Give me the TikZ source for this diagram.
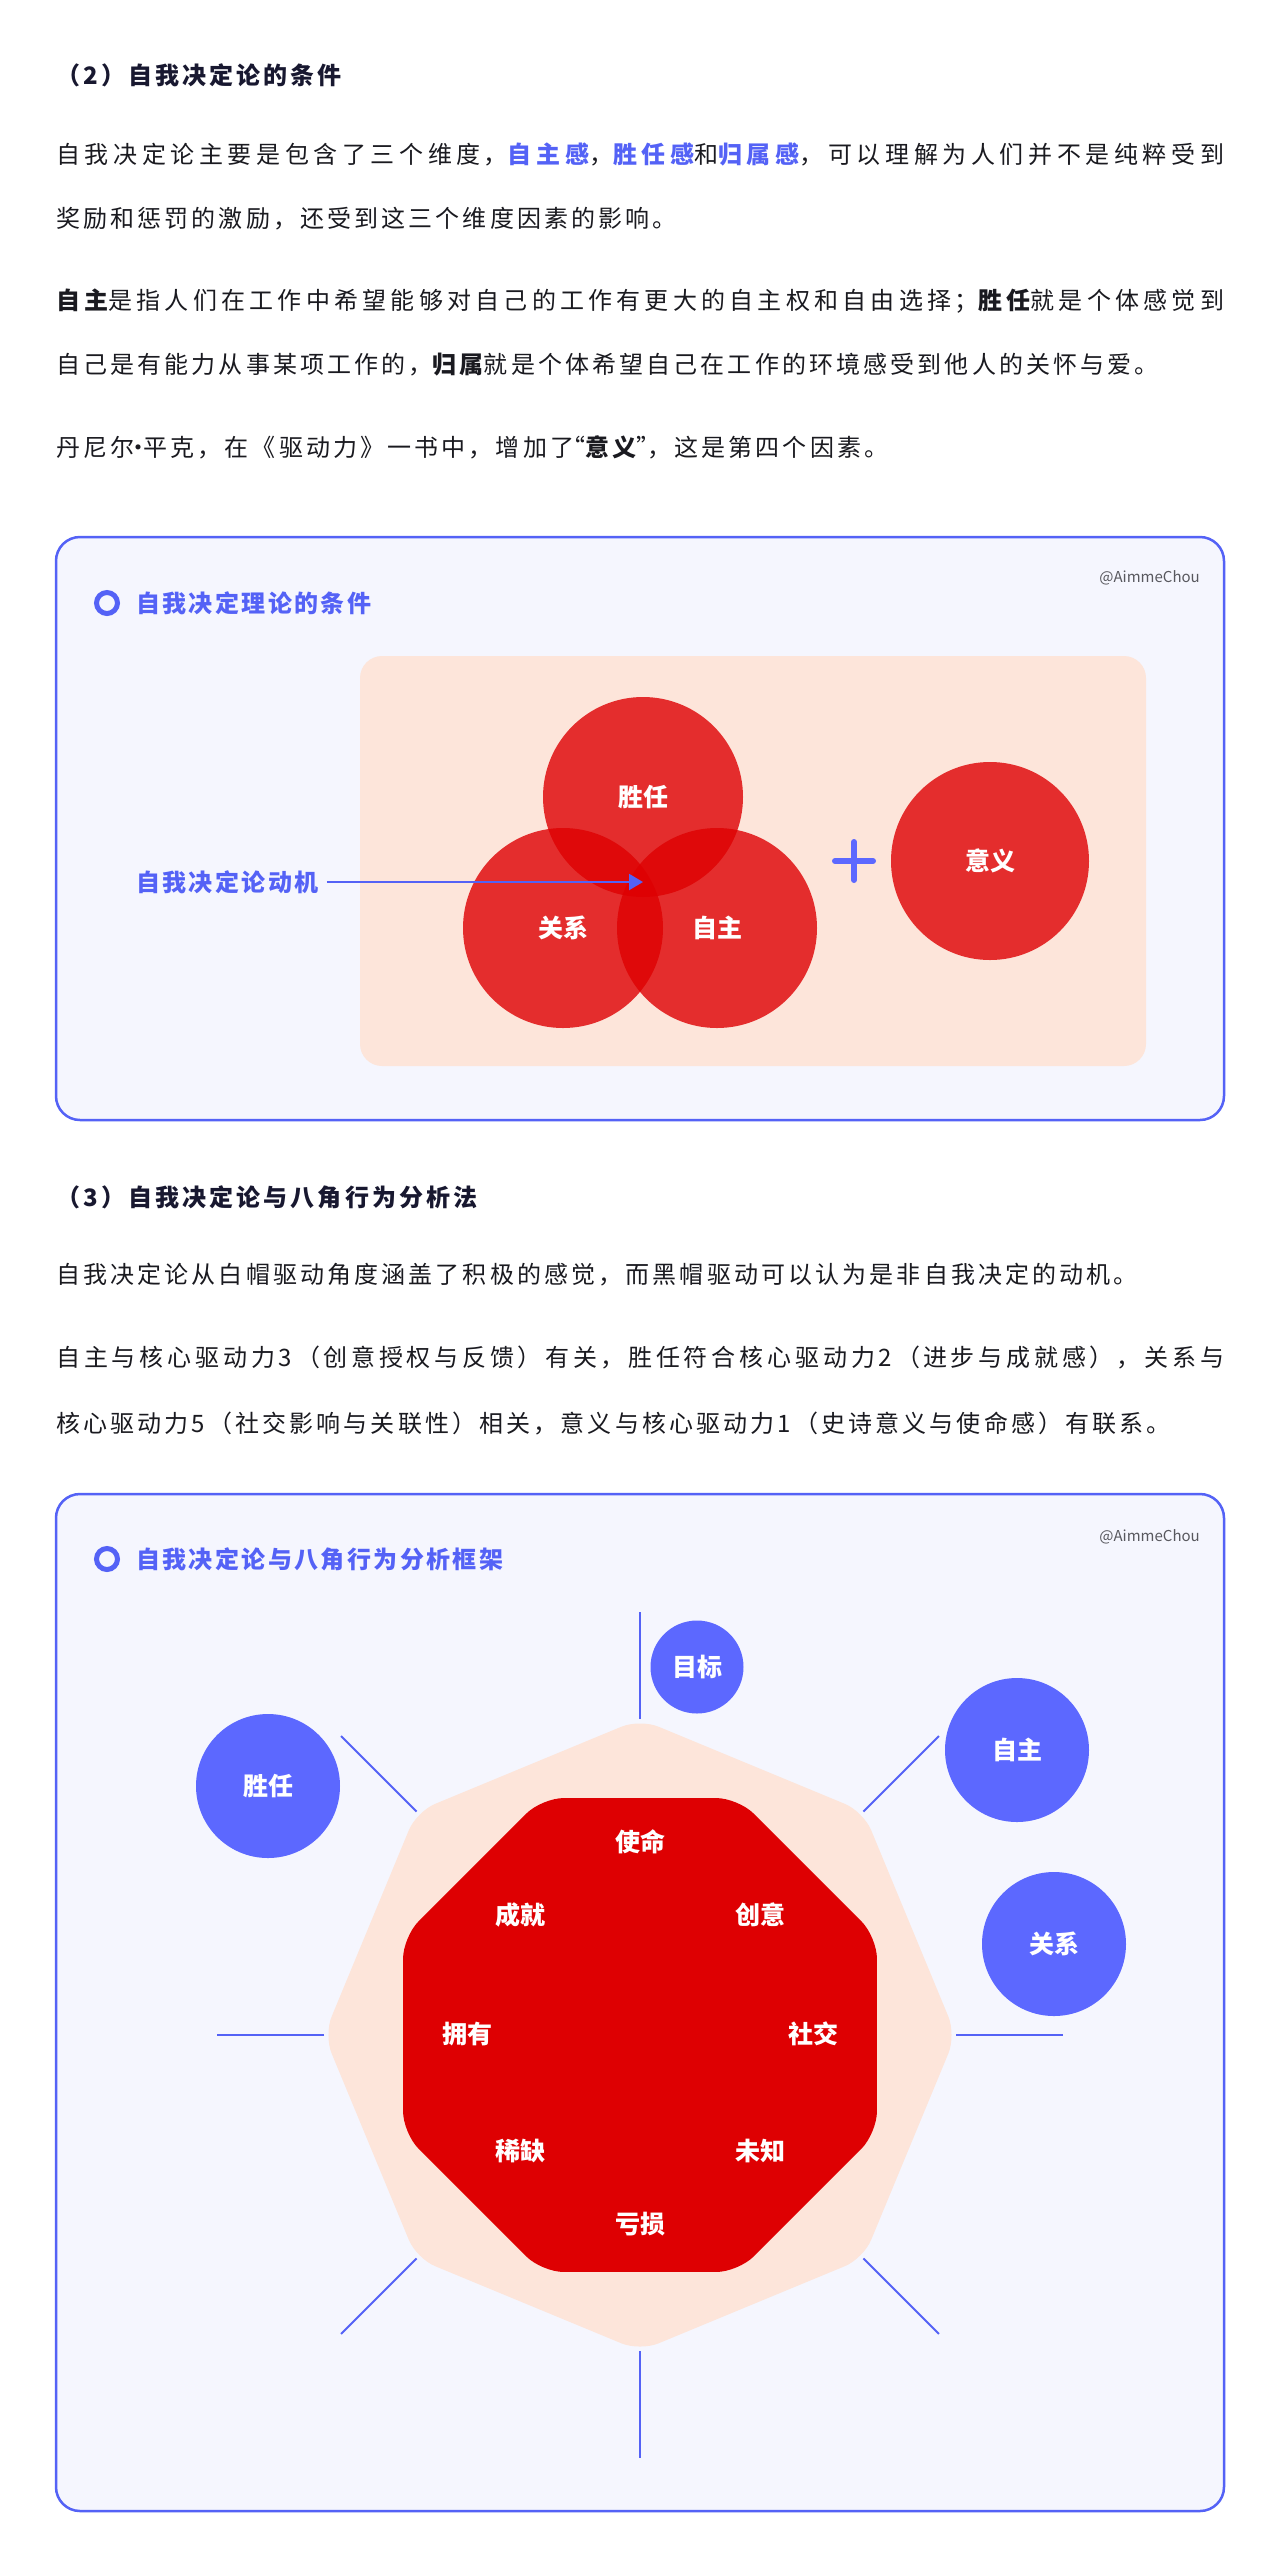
\documentclass[tikz,border=0pt]{standalone}
\usepackage{fontspec}
\usetikzlibrary{arrows.meta,calc,shapes.geometric}
\newfontfamily\cjk{Noto Sans CJK SC}
\newfontfamily\cjkbody[LetterSpace=13]{Noto Sans CJK SC}
\newfontfamily\cjktitle[LetterSpace=10]{Noto Sans CJK SC}
\XeTeXlinebreaklocale "zh"
\XeTeXlinebreakskip=0pt plus 8pt
\definecolor{sdblue}{RGB}{84,98,246}
\definecolor{sdball}{RGB}{92,104,255}
\definecolor{sdpanel}{RGB}{245,246,254}
\definecolor{sdpeach}{RGB}{253,229,218}
\definecolor{sdred}{RGB}{222,0,2}
\definecolor{sdink}{RGB}{26,26,32}
\definecolor{sdhead}{RGB}{24,24,48}
\definecolor{sdgrey}{RGB}{88,88,94}
\newcommand\sdkey[1]{{\bfseries\color{sdblue}#1}}
\newcommand\sdbold[1]{{\bfseries #1}}
\newcommand\sdgap{\hskip 0pt plus 8pt\relax}
\newcommand\sdfull[1]{{\noindent\parfillskip=0pt #1\par}}
\tikzset{
  head/.style={anchor=west,inner sep=0,text=sdhead,font=\cjkbody\fontsize{24}{28}\selectfont\bfseries},
  body/.style={anchor=west,inner sep=0,text=sdink,font=\cjkbody\fontsize{24}{28}\selectfont},
  fullline/.style={body,text width=1168pt,align=justify},
  panel/.style={draw=sdblue,line width=2.5pt,fill=sdpanel,rounded corners=24pt},
  ptitle/.style={anchor=west,inner sep=0,text=sdblue,font=\cjktitle\fontsize{24}{28}\selectfont\bfseries},
  picon/.style={circle,draw=sdblue,line width=5pt,minimum size=21pt,inner sep=0},
  sign/.style={anchor=east,inner sep=0,text=sdgrey,font=\cjk\fontsize{15}{18}\selectfont},
  redball/.style={circle,inner sep=0,minimum size=200pt,fill=sdred,fill opacity=.8,text opacity=1,text=white,font=\cjk\fontsize{25}{30}\selectfont\bfseries},
  blueball/.style={circle,inner sep=0,minimum size=144pt,fill=sdball,text=white,font=\cjk\fontsize{25}{30}\selectfont\bfseries},
  drive/.style={text=white,inner sep=0,font=\cjk\fontsize{25}{30}\selectfont\bfseries},
  plusbar/.style={draw=sdball,line width=6pt,line cap=round},
  spoke/.style={draw=sdblue,line width=2pt},
}
\begin{document}
\begin{tikzpicture}[x=1pt,y=-1pt,font=\cjk]
  \useasboundingbox (0,0) rectangle (1280,2565);
  \fill[white] (0,0) rectangle (1280,2565);

  % (2) text
  \node[head] (h2) at (56,75) {（2）自我决定论的条件};
  \node[fullline] (p1a) at (56,154) {\sdfull{自我决定论主要是包含了三个维度，\sdkey{自\sdgap 主\sdgap 感}，\sdkey{胜\sdgap 任\sdgap 感}和\sdkey{归\sdgap 属\sdgap 感}，可以理解为人们并不是纯粹受到}};
  \node[body] (p1b) at (56,219) {奖励和惩罚的激励，还受到这三个维度因素的影响。};
  \node[fullline] (p2a) at (56,301) {\sdfull{\sdbold{自\sdgap 主}是指人们在工作中希望能够对自己的工作有更大的自主权和自由选择；\sdbold{胜\sdgap 任}就是个体感觉到}};
  \node[body] (p2b) at (56,365) {自己是有能力从事某项工作的，\sdbold{归属}就是个体希望自己在工作的环境感受到他人的关怀与爱。};
  \node[body] (p3) at (56,447) {丹尼尔\hbox to 9pt{\hss·\hss}平克，在《驱动力》一书中，增加了\hbox to 11pt{\hss“}\sdbold{意义}\hbox to 11pt{”\hss}，这是第四个因素。};

  % panel 1
  \draw[panel] (56,537) rectangle (1224,1120);
  \node[picon] (i1) at (107,603) {};
  \node[ptitle] (t1) at (136,603) {自我决定理论的条件};
  \node[sign] (s1) at (1200,578) {@AimmeChou};
  \fill[sdpeach,rounded corners=22pt] (360,656) rectangle (1146,1066);
  \node[redball] (sr) at (643,797) {胜任};
  \node[redball] (gx) at (563,928) {关系};
  \node[redball] (zz) at (717,928) {自主};
  \node[redball,minimum size=198pt] (yy) at (990,861) {意义};
  \coordinate (plus) at (854,861);
  \draw[plusbar] ($(plus)+(-19,0)$) -- ($(plus)+(19,0)$);
  \draw[plusbar] ($(plus)+(0,-19)$) -- ($(plus)+(0,19)$);
  \node[ptitle] (mv) at (136,882) {自我决定论动机};
  \coordinate (core) at (643,882);
  \draw[sdblue,line width=2.2pt,shorten <=8pt,-{Triangle[length=14pt,width=16pt]}] (mv) -- (core);

  % (3) text
  \node[head] (h3) at (56,1197) {（3）自我决定论与八角行为分析法};
  \node[body] (q1) at (56,1275) {自我决定论从白帽驱动角度涵盖了积极的感觉，而黑帽驱动可以认为是非自我决定的动机。};
  \node[fullline] (q2a) at (56,1357) {\sdfull{自主与核心驱动力3（创意授权与反馈）有关，胜任符合核心驱动力2（进步与成就感），关系与}};
  \node[body] (q2b) at (56,1423) {核心驱动力5（社交影响与关联性）相关，意义与核心驱动力1（史诗意义与使命感）有联系。};

  % panel 2
  \draw[panel] (56,1494) rectangle (1224,2511);
  \node[picon] (i2) at (107,1559) {};
  \node[ptitle] (t2) at (136,1559) {自我决定论与八角行为分析框架};
  \node[sign] (s2) at (1200,1537) {@AimmeChou};
  \node[regular polygon,regular polygon sides=8,shape border rotate=22.5,minimum size=632pt,inner sep=0,outer sep=0,fill=sdpeach,rounded corners=20pt] (outer) at (640,2035) {};
  \node[regular polygon,regular polygon sides=8,minimum size=513pt,inner sep=0,outer sep=0,fill=sdred,rounded corners=22pt] (inner) at (640,2035) {};
  \foreach \k in {1,...,8} {
    \coordinate (tip\k) at ($(outer.center)!1.338!(outer.corner \k)$);
    \draw[spoke] (outer.corner \k) -- (tip\k);
  }
  \node[drive] (d1) at (640,1842) {使命};
  \node[drive] (d2) at (520,1915) {成就};
  \node[drive] (d3) at (760,1915) {创意};
  \node[drive] (d4) at (467,2034) {拥有};
  \node[drive] (d5) at (813,2034) {社交};
  \node[drive] (d6) at (520,2151) {稀缺};
  \node[drive] (d7) at (760,2151) {未知};
  \node[drive] (d8) at (640,2224) {亏损};
  \node[blueball,minimum size=93pt] (mb) at (697,1667) {目标};
  \node[blueball] (b1) at (268,1786) {胜任};
  \node[blueball] (b2) at (1017,1750) {自主};
  \node[blueball] (b3) at (1054,1944) {关系};
\end{tikzpicture}
\end{document}
